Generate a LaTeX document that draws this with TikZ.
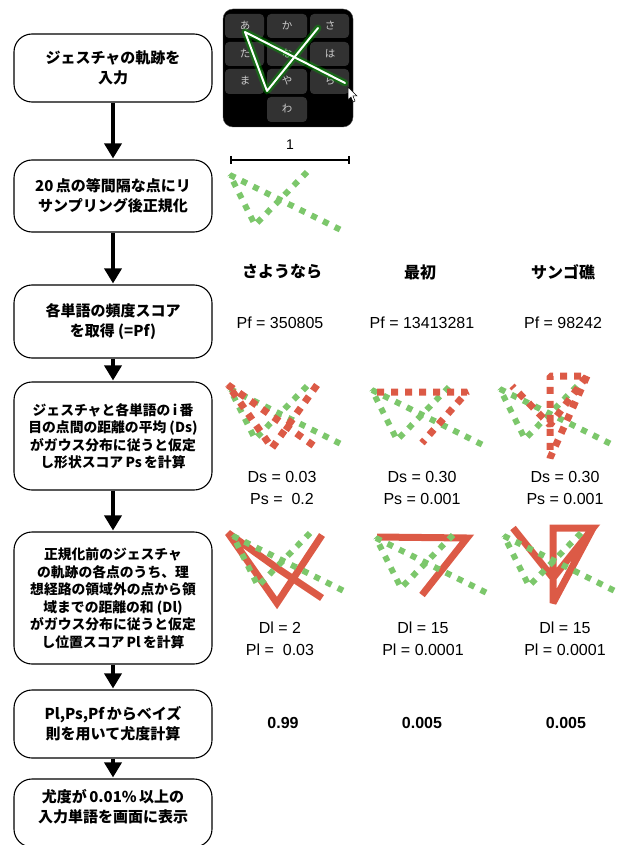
\documentclass[tikz,border=0pt]{standalone}
\usepackage{fontspec}
\setmainfont{Noto Sans CJK JP}
\newfontfamily\numfont{Liberation Sans}
\usetikzlibrary{arrows.meta,positioning}

\definecolor{dotgreen}{RGB}{124,199,107}
\definecolor{pathred}{RGB}{220,90,70}
\definecolor{keygray}{RGB}{50,50,50}

\tikzset{
  stepbox/.style={draw,line width=1.1pt,rounded corners=18pt,minimum width=198pt,
    align=center,font=\bfseries\fontsize{15}{20}\selectfont},
  smallbox/.style={stepbox,font=\bfseries\fontsize{13.8}{17.5}\selectfont},
  flow/.style={line width=3.5pt,-{Triangle[length=15pt,width=17pt]},shorten >=1pt},
  key/.style={fill=keygray,rounded corners=4pt},
  kana/.style={text=white!80!black,font=\fontsize{10.5}{10.5}\selectfont},
  gdots/.style={dotgreen,line width=6pt,dash pattern=on 6pt off 7pt,line join=bevel},
  rdots/.style={pathred,line width=7pt,dash pattern=on 7pt off 7pt,line join=bevel},
  rband/.style={pathred,line width=7pt,line join=miter,miter limit=3},
  word/.style={font=\bfseries\fontsize{16}{16}\selectfont},
  score/.style={align=center,font=\numfont\fontsize{16}{22}\selectfont},
  result/.style={font=\numfont\bfseries\fontsize{16}{16}\selectfont},
}

% the input stroke, scaled to the unit box
\newcommand{\gesturedots}{\draw[gdots] (77,0) -- (25,53) -- (0,3) -- (113,59);}

\begin{document}
\begin{tikzpicture}[x=1pt,y=-1pt,line join=round]
    \useasboundingbox (0,0) rectangle (622,845);

    % steps
    \node[stepbox,minimum height=68pt] (input) at (113,68) {ジェスチャの軌跡を\\入力};
    \node[stepbox,minimum height=72pt] (resample) at (113,196) {20\,点の等間隔な点にリ\\サンプリング後正規化};
    \node[stepbox,minimum height=73pt] (freq) at (113,321.5) {各単語の頻度スコア\\を取得 (=Pf)};
    \node[smallbox,minimum height=108pt] (shape) at (113,436)
      {ジェスチャと各単語の\,i\,番\\目の点間の距離の平均 (Ds)\\がガウス分布に従うと仮定\\し形状スコア\,Ps\,を計算};
    \node[smallbox,minimum height=132pt] (place) at (113,598)
      {正規化前のジェスチャ\\の軌跡の各点のうち、理\\想経路の領域外の点から領\\域までの距離の和 (Dl)\\がガウス分布に従うと仮定\\し位置スコア\,Pl\,を計算};
    \node[stepbox,minimum height=68pt] (bayes) at (113,724) {Pl,Ps,Pf\,からベイズ\\則を用いて尤度計算};
    \node[stepbox,minimum height=68pt,text depth=14pt] (show) at (113,813) {尤度が\,0.01\%\,以上の\\入力単語を画面に表示};

    \draw[flow] (input) -- (resample);
    \draw[flow] (resample) -- (freq);
    \draw[flow] (freq) -- (shape);
    \draw[flow] (shape) -- (place);
    \draw[flow] (place) -- (bayes);
    \draw[flow] (bayes) -- (show);

    % keyboard with the drawn stroke
    \draw[fill=black,draw=black!70,rounded corners=10pt] (223,9) rectangle (353,127);
    \fill[key] (225,14) rectangle (264,38);
    \fill[key] (267,14) rectangle (307,38);
    \fill[key] (310,14) rectangle (349,38);
    \fill[key] (225,42) rectangle (264,66);
    \fill[key] (267,42) rectangle (307,66);
    \fill[key] (310,42) rectangle (349,66);
    \fill[key] (225,69) rectangle (264,94);
    \fill[key] (267,69) rectangle (307,94);
    \fill[key] (310,69) rectangle (349,94);
    \fill[key] (267,97) rectangle (307,122);
    \node[kana] (ka) at (287,26) {か};
    \node[kana] (a) at (245,26) {あ};
    \node[kana] (sa) at (330,26) {さ};
    \node[kana] (ta) at (245,54) {た};
    \node[kana] (na) at (287,54) {な};
    \node[kana] (ha) at (330,54) {は};
    \node[kana] (ma) at (245,81) {ま};
    \node[kana] (ya) at (287,81) {や};
    \node[kana] (ra) at (330,81) {ら};
    \node[kana] (wa) at (287,109) {わ};
    \draw[green!70!black,opacity=.35,line width=7pt,line cap=round] (318,28) -- (267,91) -- (245,32) -- (345,83);
    \draw[green!50!black,opacity=.6,line width=4pt,line cap=round] (318,28) -- (267,91) -- (245,32) -- (345,83);
    \draw[white,line width=2pt,line cap=round] (318,28) -- (267,91) -- (245,32) -- (345,83);
    \draw[fill=white,draw=black,line width=.5pt,line join=miter]
      (348,87) -- (348,100) -- (351,97) -- (353,102) -- (355,101) -- (353,96) -- (357,96) -- cycle;

    % unit length
    \node[font=\numfont\fontsize{14}{14}\selectfont] (unit) at (290,145) {1};
    \draw[line width=1.1pt] (231,156) -- (231,164) (231,160) -- (349,160) (349,156) -- (349,164);

    % normalised stroke
    \begin{scope}[shift={(230,172)}]
      \gesturedots
    \end{scope}

    % candidate words
    \node[word] (sayonara) at (282,272) {さようなら};
    \node[word] (saisho) at (420,272) {最初};
    \node[word] (sango) at (563,272) {サンゴ礁};

    \node[score] (pfA) at (280,323) {Pf = 350805};
    \node[score] (pfB) at (422,323) {Pf = 13413281};
    \node[score] (pfC) at (563,323) {Pf = 98242};

    % shape distance
    \begin{scope}[shift={(230,386)}]
      \gesturedots
      \draw[rdots] (87,-1) -- (42,62) -- (-2,-1) -- (42,30) -- (87,62);
    \end{scope}
    \begin{scope}[shift={(372,387)}]
      \gesturedots
      \draw[rdots] (5,5) -- (95,5) -- (50,56);
    \end{scope}
    \begin{scope}[shift={(500,386)}]
      \gesturedots
      \draw[rdots] (87,-10) -- (50,72) -- (50,-10) -- (87,-10) -- (50,39) -- (12,0);
    \end{scope}

    \node[score] (dsA) at (282,488) {Ds = 0.03\\Ps = \ 0.2};
    \node[score] (dsB) at (422,488) {Ds = 0.30\\Ps = 0.001};
    \node[score] (dsC) at (565,488) {Ds = 0.30\\Ps = 0.001};

    % location distance
    \begin{scope}[shift={(233,533)}]
      \draw[rband] (89,2) -- (44,70) -- (-5,0) -- (44,35) -- (89,65);
      \gesturedots
    \end{scope}
    \begin{scope}[shift={(376,535)}]
      \draw[rband] (1,2) -- (91,3) -- (46,60);
      \gesturedots
    \end{scope}
    \begin{scope}[shift={(504,533)}]
      \draw[rband] (89,-5) -- (49,70) -- (49,-5) -- (89,-5) -- (49,45) -- (9,-5);
      \gesturedots
    \end{scope}

    \node[score] (dlA) at (280,639) {Dl = 2\\Pl = \ 0.03};
    \node[score] (dlB) at (423,639) {Dl = 15\\Pl = 0.0001};
    \node[score] (dlC) at (565,639) {Dl = 15\\Pl = 0.0001};

    % likelihood
    \node[result] (likeA) at (283,723) {0.99};
    \node[result] (likeB) at (422,723) {0.005};
    \node[result] (likeC) at (566,723) {0.005};
\end{tikzpicture}
\end{document}
